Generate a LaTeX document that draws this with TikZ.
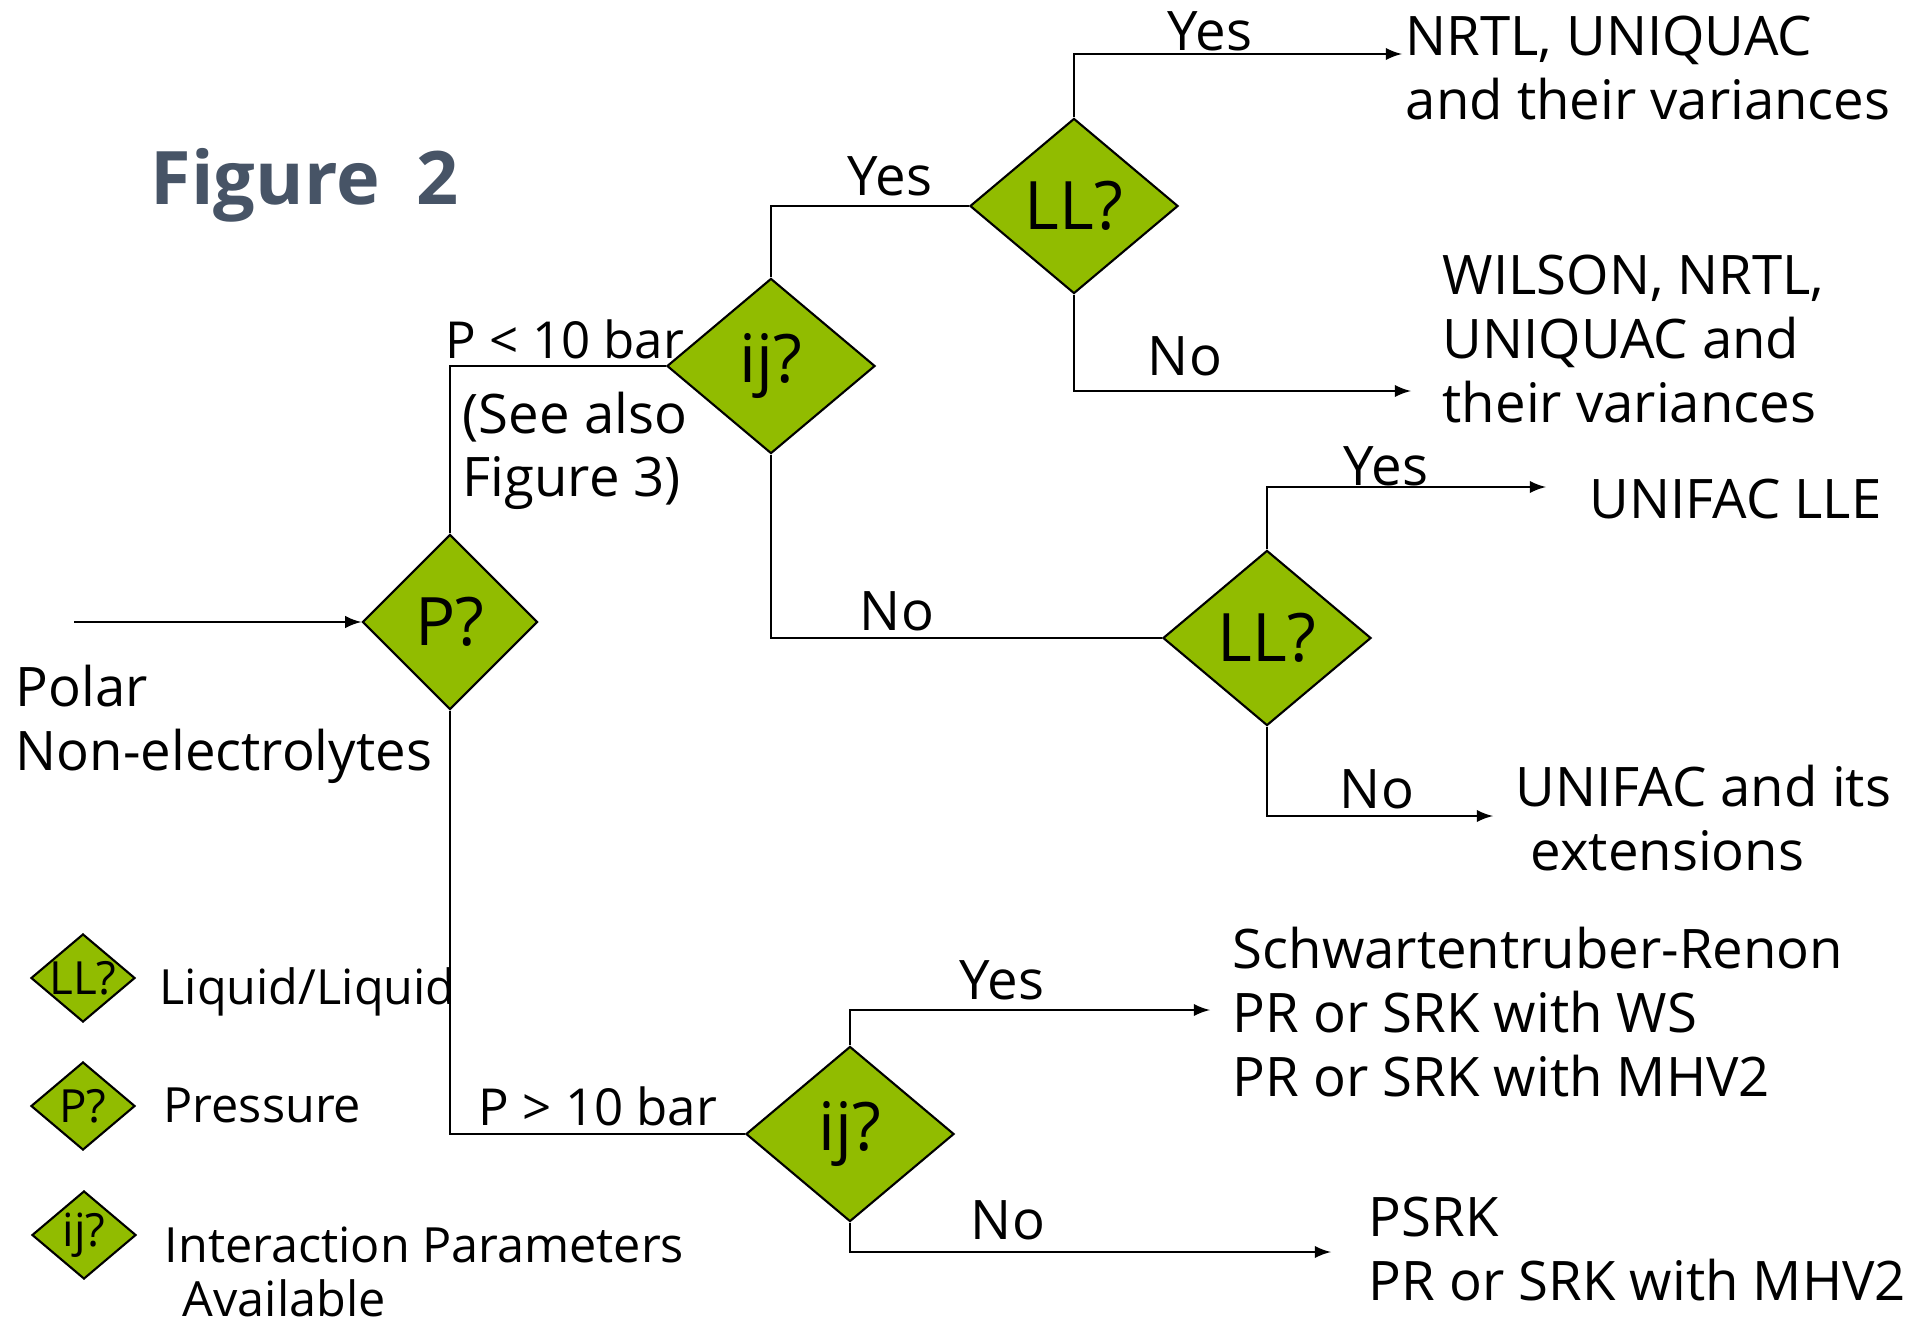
\documentclass[tikz,border=0pt]{standalone}
\usepackage{fontspec}
\setmainfont{Open Sans}
\usepackage{tikz}
\usetikzlibrary{shapes.geometric}
\definecolor{qgreen}{RGB}{145,188,0}
\definecolor{titlegray}{RGB}{71,84,102}

\tikzset{
	question/.style={diamond, draw=black, line width=0.6pt, fill=qgreen, inner sep=0pt,
		minimum width=2.08cm, minimum height=1.75cm, font=\fontsize{19}{22}\selectfont},
	legendq/.style={question, minimum width=1.04cm, minimum height=0.88cm, font=\fontsize{13}{15}\selectfont},
	branch/.style={font=\fontsize{15.5}{18}\selectfont, inner sep=0pt},
	result/.style={font=\fontsize{15.5}{18.2}\selectfont, align=left, anchor=west, inner sep=0pt},
	legendtext/.style={font=\fontsize{13.8}{15.2}\selectfont, align=left, anchor=west, inner sep=0pt},
	link/.style={line width=0.6pt},
	flow/.style={link, -latex}
}

\begin{document}
\begin{tikzpicture}[x=0.01cm, y=-0.01cm]
	\useasboundingbox (0,0) rectangle (1932,1324);
	
	% Title
	\node[anchor=west, inner sep=0pt, text=titlegray, font=\fontsize{21}{25}\selectfont\bfseries] (title) at (150,185) {Figure\enspace 2};
	
	% Decision diamonds
	\node[question, minimum width=1.75cm] (p) at (450,622) {P?};
	\node[question] (ijA) at (771,366) {ij?};
	\node[question] (llA) at (1074,206) {LL?};
	\node[question] (llB) at (1267,638) {LL?};
	\node[question] (ijB) at (850,1134) {ij?};
	
	% Free arrow ends
	\coordinate (start) at (74,622);
	\coordinate (nrtlEnd) at (1402,54);
	\coordinate (wilsonEnd) at (1411,391);
	\coordinate (lleEnd) at (1546,487);
	\coordinate (unifacEnd) at (1493,816);
	\coordinate (renonEnd) at (1210,1010);
	\coordinate (psrkEnd) at (1331,1252);
	
	% Connectors
	\draw[flow] (start) -- (p.west);
	\draw[link] (p.north) |- (ijA.west);
	\draw[link] (p.south) |- (ijB.west);
	\draw[link] (ijA.north) |- (llA.west);
	\draw[link] (ijA.south) |- (llB.west);
	\draw[flow] (llA.north) |- (nrtlEnd);
	\draw[flow] (llA.south) |- (wilsonEnd);
	\draw[flow] (llB.north) |- (lleEnd);
	\draw[flow] (llB.south) |- (unifacEnd);
	\draw[flow] (ijB.north) |- (renonEnd);
	\draw[flow] (ijB.south) |- (psrkEnd);
	
	% Branch labels
	\node[branch, anchor=west, font=\fontsize{14.5}{18}\selectfont] (pLow) at (445,339) {P < 10 bar};
	\node[branch, anchor=west, align=left] (seeAlso) at (462,451) {(See also\\Figure 3)};
	\node[branch, anchor=west, font=\fontsize{14.5}{18}\selectfont] (pHigh) at (478,1106) {P > 10 bar};
	\node[branch] (yesA) at (890,176) {Yes};
	\node[branch] (noA) at (897,611) {No};
	\node[branch] (yesB) at (1210,31) {Yes};
	\node[branch] (noB) at (1185,356) {No};
	\node[branch] (yesC) at (1386,466) {Yes};
	\node[branch] (noC) at (1377,789) {No};
	\node[branch] (yesD) at (1002,980) {Yes};
	\node[branch] (noD) at (1008,1220) {No};
	
	% Results
	\node[result] (polar) at (15,724) {Polar\\Non-electrolytes};
	\node[result] (nrtl) at (1405,68) {NRTL, UNIQUAC\\and their variances};
	\node[result] (wilson) at (1442,339) {WILSON, NRTL,\\UNIQUAC and\\their variances};
	\node[result] (lle) at (1589,499) {UNIFAC LLE};
	\node[result] (unifac) at (1515,818) {UNIFAC and its\\\hspace*{0.15cm}extensions};
	\node[result] (renon) at (1232,1012) {Schwartentruber-Renon\\PR or SRK with WS\\PR or SRK with MHV2};
	\node[result] (psrk) at (1368,1249) {PSRK\\PR or SRK with MHV2};
	
	% Legend
	\node[legendq] (legLL) at (83,978) {\makebox[0pt]{LL?}};
	\node[legendq] (legP) at (83,1106) {\makebox[0pt]{P?}};
	\node[legendq] (legIJ) at (84,1235) {\makebox[0pt]{ij?}};
	\node[legendtext] (legLLtext) at (159,992) {Liquid/Liquid};
	\node[legendtext] (legPtext) at (163,1105) {Pressure};
	\node[legendtext] (legIJtext) at (164,1272) {Interaction Parameters\\\hspace*{0.18cm}Available};
	
\end{tikzpicture}
\end{document}
